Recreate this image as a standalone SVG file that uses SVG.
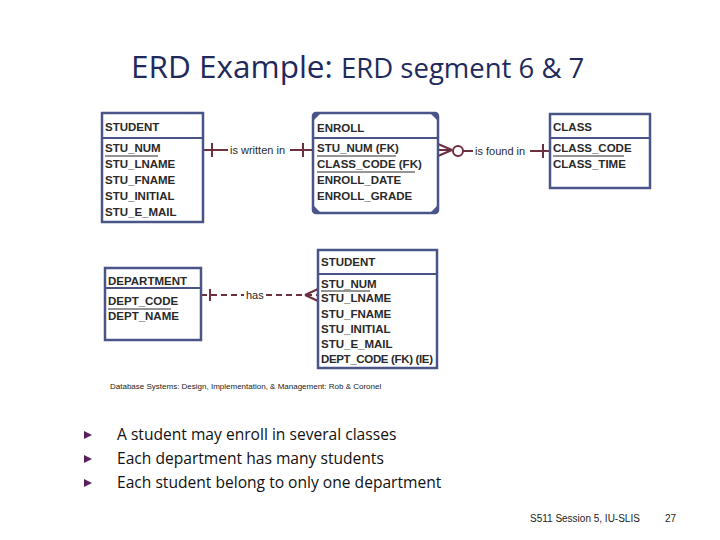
<svg xmlns="http://www.w3.org/2000/svg" width="720" height="540" viewBox="0 0 720 540">
<style>
.box{fill:#fff;stroke:#4a5488;stroke-width:2.5}
.div{stroke:#4a5488;stroke-width:2}
.t{font-family:"Liberation Sans",Arial,sans-serif;font-size:11.5px;font-weight:bold;fill:#2a2a2a}
.ul{stroke:#2a2a2a;stroke-width:1}
.rel{stroke:#6e2f3e;stroke-width:2;fill:none}
.rl{font-family:"Liberation Sans",Arial,sans-serif;font-size:11px;fill:#2a2a2a}
</style>
<rect width="720" height="540" fill="#fff"/>
<text x="131" y="78" font-family="'Open Sans',sans-serif" font-size="31.5" fill="#1f2a5c">ERD Example: <tspan font-size="27.5">ERD segment 6 &amp; 7</tspan></text>

<g id="connectors">
  <line class="rel" x1="203" y1="150" x2="228" y2="150"/>
  <line class="rel" x1="290" y1="150" x2="313" y2="150"/>
  <line class="rel" x1="212" y1="143" x2="212" y2="157"/>
  <line class="rel" x1="303" y1="143" x2="303" y2="157"/>
  <text class="rl" x="230" y="154">is written in</text>

  <line class="rel" x1="438" y1="150" x2="452" y2="150"/>
  <line class="rel" x1="438" y1="144" x2="452" y2="150"/>
  <line class="rel" x1="438" y1="156" x2="452" y2="150"/>
  <circle class="rel" cx="458" cy="151" r="5"/>
  <line class="rel" x1="463" y1="151" x2="473" y2="151"/>
  <text class="rl" x="475" y="155">is found in</text>
  <line class="rel" x1="530" y1="151" x2="550" y2="151"/>
  <line class="rel" x1="543" y1="144" x2="543" y2="158"/>

  <line class="rel" x1="201" y1="295" x2="244" y2="295" stroke-dasharray="6,4"/>
  <line class="rel" x1="266" y1="295" x2="318" y2="295" stroke-dasharray="6,4"/>
  <line class="rel" x1="210" y1="289" x2="210" y2="301"/>
  <line class="rel" x1="305" y1="295" x2="318" y2="289"/>
  <line class="rel" x1="305" y1="295" x2="318" y2="301"/>
  <text class="rl" x="246" y="299">has</text>
</g>

<g id="student1">
  <rect class="box" x="102" y="113" width="101" height="109"/>
  <line class="div" x1="102" y1="138" x2="203" y2="138"/>
  <text class="t" x="105" y="131">STUDENT</text>
  <text class="t" x="105" y="152">STU_NUM</text>
  <line class="ul" x1="105" y1="156" x2="158" y2="156"/>
  <text class="t" x="105" y="168">STU_LNAME</text>
  <text class="t" x="105" y="184">STU_FNAME</text>
  <text class="t" x="105" y="200">STU_INITIAL</text>
  <text class="t" x="105" y="216">STU_E_MAIL</text>
</g>

<g id="enroll">
  <rect class="box" x="313" y="113" width="125" height="100" rx="3"/>
  <path d="M313 113 h8 l-8 8 z M438 113 h-8 l8 8 z M313 213 h8 l-8 -8 z M438 213 h-8 l8 -8 z" fill="#4a5488"/>
  <line class="div" x1="313" y1="138" x2="438" y2="138"/>
  <text class="t" x="317" y="132">ENROLL</text>
  <text class="t" x="317" y="152">STU_NUM (FK)</text>
  <line class="ul" x1="317" y1="156" x2="396" y2="156"/>
  <text class="t" x="317" y="168">CLASS_CODE (FK)</text>
  <line class="ul" x1="317" y1="172" x2="415" y2="172"/>
  <text class="t" x="317" y="184">ENROLL_DATE</text>
  <text class="t" x="317" y="200">ENROLL_GRADE</text>
</g>

<g id="class">
  <rect class="box" x="550" y="114" width="100" height="74"/>
  <line class="div" x1="550" y1="138" x2="650" y2="138"/>
  <text class="t" x="553" y="131">CLASS</text>
  <text class="t" x="553" y="152">CLASS_CODE</text>
  <line class="ul" x1="553" y1="156" x2="624" y2="156"/>
  <text class="t" x="553" y="168">CLASS_TIME</text>
</g>

<g id="department">
  <rect class="box" x="105" y="268" width="96" height="72"/>
  <line class="div" x1="105" y1="288" x2="201" y2="288"/>
  <text class="t" x="108" y="285">DEPARTMENT</text>
  <text class="t" x="108" y="305">DEPT_CODE</text>
  <line class="ul" x1="108" y1="309" x2="171" y2="309"/>
  <text class="t" x="108" y="320">DEPT_NAME</text>
</g>

<g id="student2">
  <rect class="box" x="318" y="250" width="119" height="118"/>
  <line class="div" x1="318" y1="274" x2="437" y2="274"/>
  <text class="t" x="321" y="266">STUDENT</text>
  <text class="t" x="321" y="288">STU_NUM</text>
  <line class="ul" x1="321" y1="291" x2="370" y2="291"/>
  <text class="t" x="321" y="302">STU_LNAME</text>
  <text class="t" x="321" y="318">STU_FNAME</text>
  <text class="t" x="321" y="333">STU_INITIAL</text>
  <text class="t" x="321" y="348">STU_E_MAIL</text>
  <text class="t" x="321" y="363" textLength="112">DEPT_CODE (FK) (IE)</text>
</g>

<text x="110" y="389" font-family="'Liberation Sans',Arial,sans-serif" font-size="8" fill="#222">Database Systems: Design, Implementation, &amp; Management: Rob &amp; Coronel</text>

<g fill="#5a2060">
  <path d="M84 431 L92 435 L84 439 Z"/>
  <path d="M84 455 L92 459 L84 463 Z"/>
  <path d="M84 479 L92 483 L84 487 Z"/>
</g>
<g font-family="'Open Sans',sans-serif" font-size="15.6" fill="#111">
  <text x="117" y="440">A student may enroll in several classes</text>
  <text x="117" y="464">Each department has many students</text>
  <text x="117" y="488">Each student belong to only one department</text>
</g>
<text x="530" y="522" font-family="'Liberation Sans',Arial,sans-serif" font-size="10" fill="#222">S511 Session 5, IU-SLIS</text>
<text x="665" y="522" font-family="'Liberation Sans',Arial,sans-serif" font-size="10" fill="#222">27</text>
</svg>
